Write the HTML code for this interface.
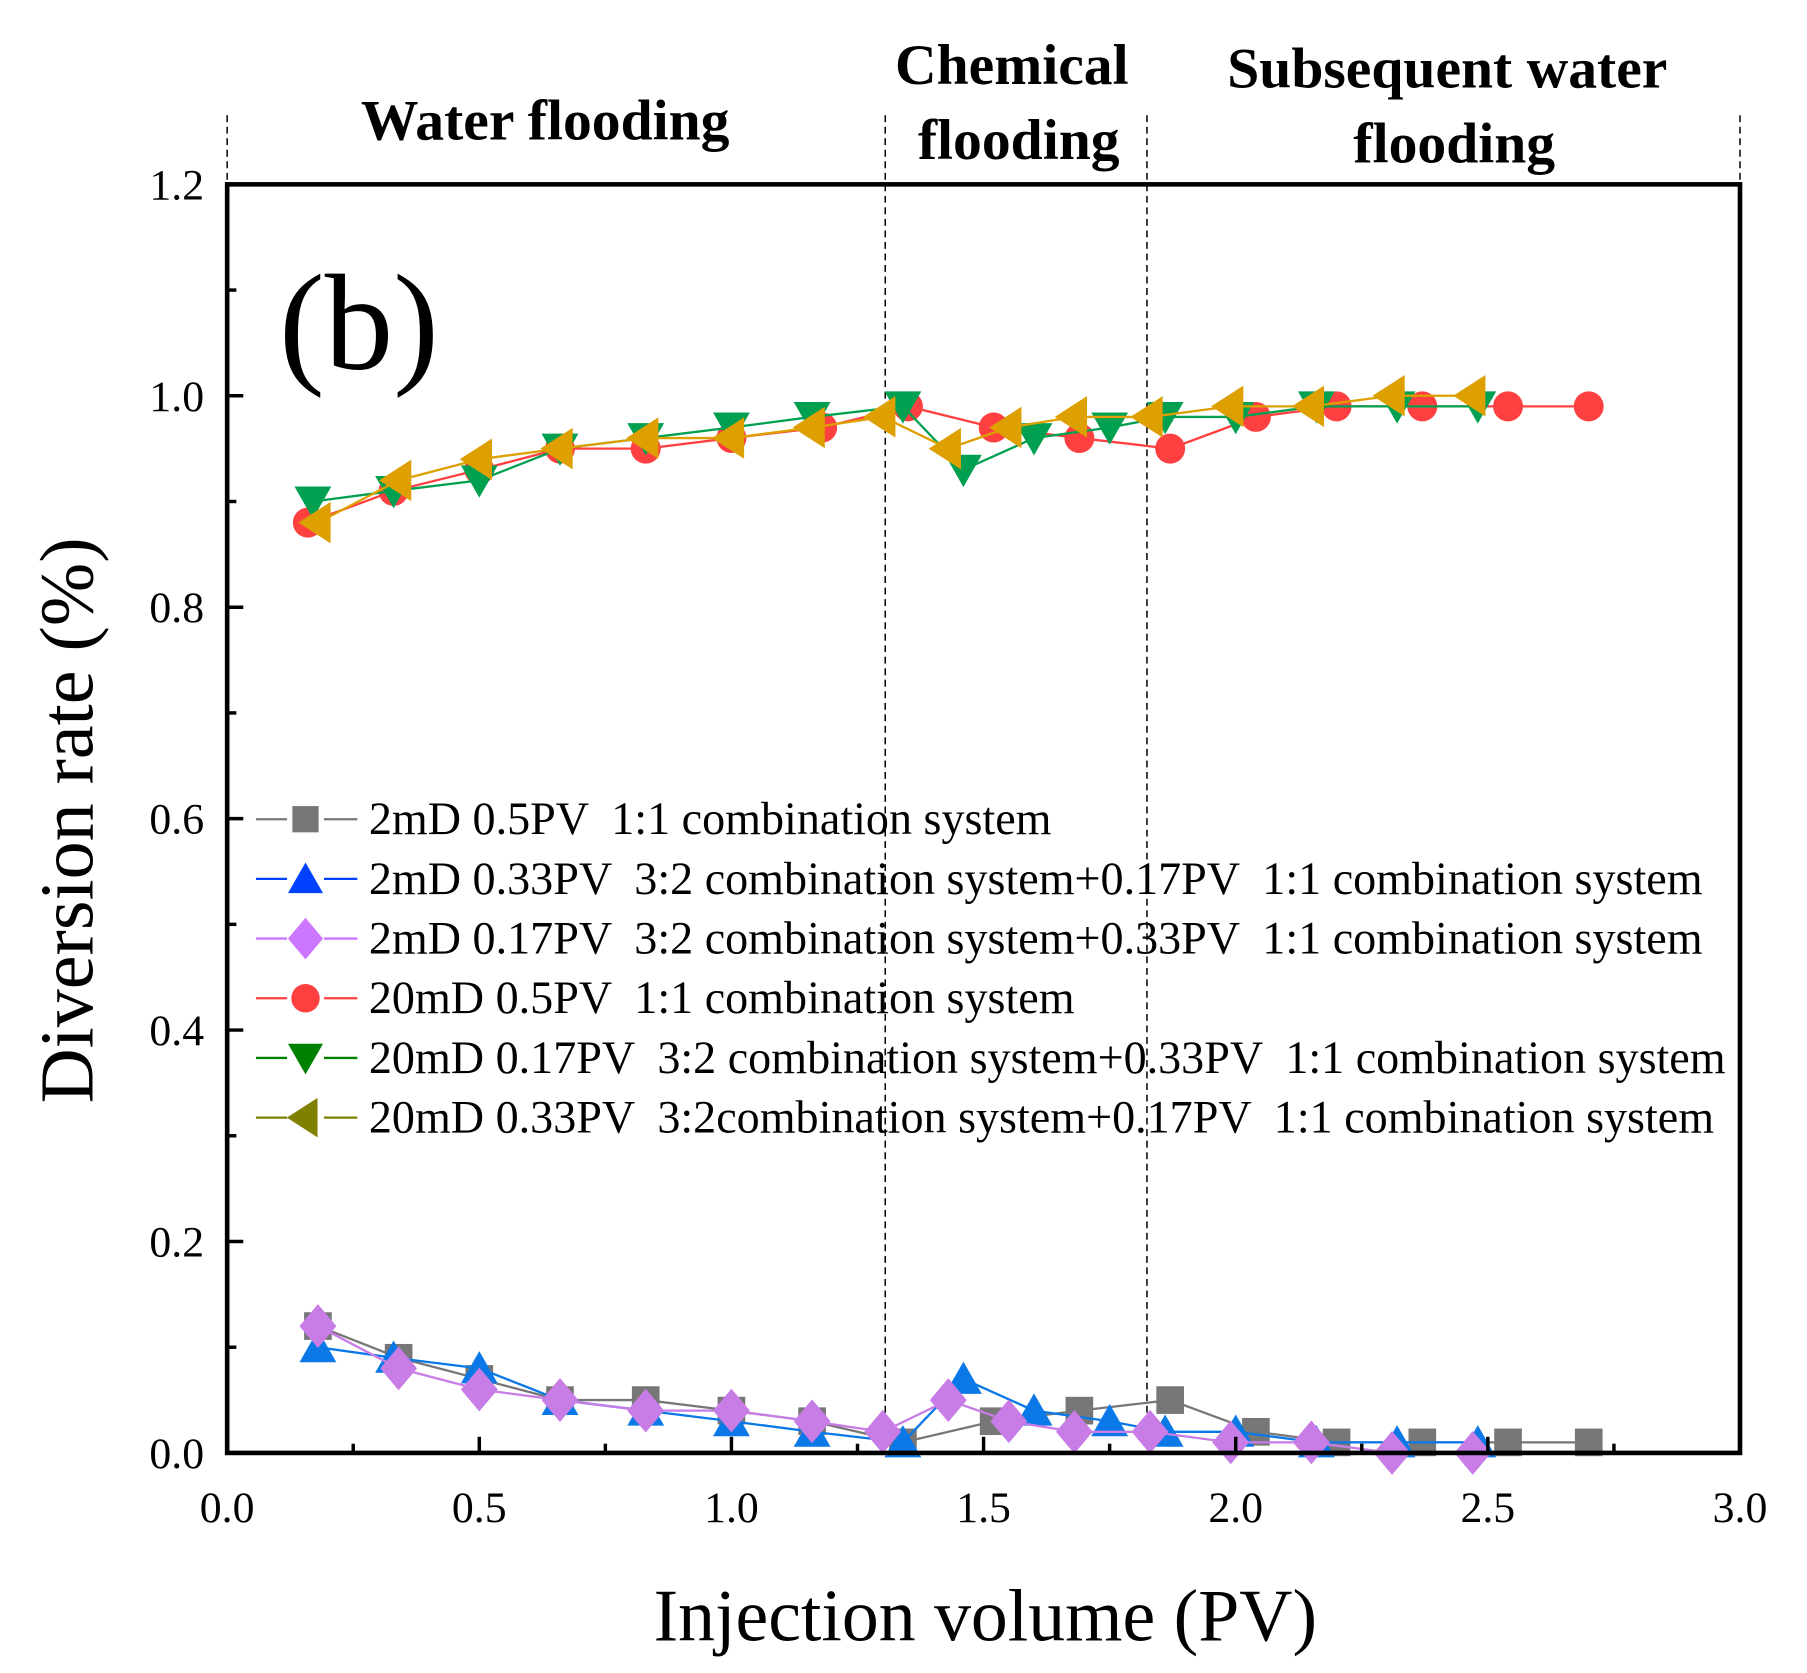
<!DOCTYPE html>
<html><head><meta charset="utf-8"><style>
html,body{margin:0;padding:0;background:#fff}
svg{display:block}
text{font-family:"Liberation Serif","Times New Roman",serif;white-space:pre}
</style></head><body>
<svg id="chart" width="1807" height="1673" viewBox="0 0 1568 1452" xmlns="http://www.w3.org/2000/svg">
</svg>
<script>
const categoriesX_gray=[0.18,0.34,0.5,0.66,0.83,1.0,1.16,1.34,1.52,1.69,1.87,2.04,2.2,2.37,2.54,2.7];
const valuesGray=[0.12,0.09,0.07,0.05,0.05,0.04,0.03,0.01,0.03,0.04,0.05,0.02,0.01,0.01,0.01,0.01];
const categoriesX_blue=[0.18,0.33,0.5,0.66,0.83,1.0,1.16,1.34,1.46,1.6,1.75,1.86,2.0,2.16,2.32,2.48];
const valuesBlue=[0.10,0.09,0.08,0.05,0.04,0.03,0.02,0.01,0.07,0.04,0.03,0.02,0.02,0.01,0.01,0.01];
const categoriesX_purple=[0.18,0.34,0.5,0.66,0.83,1.0,1.16,1.3,1.43,1.55,1.68,1.83,1.99,2.15,2.31,2.47];
const valuesPurple=[0.12,0.08,0.06,0.05,0.04,0.04,0.03,0.02,0.05,0.03,0.02,0.02,0.01,0.01,0.0,0.0];
const categoriesX_red=[0.16,0.33,0.5,0.66,0.83,1.0,1.18,1.35,1.52,1.69,1.87,2.04,2.2,2.37,2.54,2.7];
const valuesRed=[0.88,0.91,0.93,0.95,0.95,0.96,0.97,0.99,0.97,0.96,0.95,0.98,0.99,0.99,0.99,0.99];
const categoriesX_green=[0.17,0.33,0.5,0.66,0.83,1.0,1.16,1.34,1.46,1.6,1.75,1.86,2.0,2.16,2.32,2.48];
const valuesGreen=[0.90,0.91,0.92,0.95,0.96,0.97,0.98,0.99,0.93,0.96,0.97,0.98,0.98,0.99,0.99,0.99];
const categoriesX_gold=[0.18,0.34,0.5,0.66,0.83,1.0,1.16,1.3,1.43,1.55,1.68,1.83,1.99,2.15,2.31,2.47];
const valuesGold=[0.88,0.92,0.94,0.95,0.96,0.96,0.97,0.98,0.95,0.97,0.98,0.98,0.99,0.99,1.0,1.0];
const xTickLabels=["0.0","0.5","1.0","1.5","2.0","2.5","3.0"];
const yTickLabels=["0.0","0.2","0.4","0.6","0.8","1.0","1.2"];
const stageBoundaries=[1.305,1.824];
const legendLabels=["2mD 0.5PV  1:1 combination system","2mD 0.33PV  3:2 combination system+0.17PV  1:1 combination system","2mD 0.17PV  3:2 combination system+0.33PV  1:1 combination system","20mD 0.5PV  1:1 combination system","20mD 0.17PV  3:2 combination system+0.33PV  1:1 combination system","20mD 0.33PV  3:2combination system+0.17PV  1:1 combination system"];

const NS="http://www.w3.org/2000/svg";
const svg=document.getElementById('chart');
const L=197,R=1510,T=160,B=1261;
const xs=v=>L+(v/3)*(R-L);
const ys=v=>B-(v/1.2)*(B-T);
function el(tag,attrs,parent){const e=document.createElementNS(NS,tag);for(const k in attrs)e.setAttribute(k,attrs[k]);(parent||svg).appendChild(e);return e;}
function txt(s,attrs,parent){const e=el('text',attrs,parent);e.textContent=s;return e;}

const sep=[0,stageBoundaries[0],stageBoundaries[1],3];
sep.forEach((v,i)=>{
  const inner=(i==1||i==2);
  const ln=el('line',{x1:xs(v),x2:xs(v),y1:100,y2:inner?B:T,stroke:'#000','stroke-width':1.3,'stroke-dasharray':'6,4'});
  
  
});
const st=[["Water flooding",null,473,121],["Chemical","flooding",878,73],["Subsequent water","flooding",1256,76]];
st.forEach(s=>{
  const g=el('g',{});
  
  
  txt(s[0],{x:s[2],y:s[3],'text-anchor':'middle','font-size':50,'font-weight':'bold'},g);
  if(s[1])txt(s[1],{x:s[2]+6,y:s[3]+65,'text-anchor':'middle','font-size':50,'font-weight':'bold'},g);
});

const series=[
 {xs:categoriesX_gray,ys:valuesGray,c:'#777777',lc:'#777777',m:'square',n:'series-2md-0.5pv'},
 {xs:categoriesX_blue,ys:valuesBlue,c:'#0a78e6',lc:'#0040ff',m:'tri-up',n:'series-2md-0.33pv'},
 {xs:categoriesX_purple,ys:valuesPurple,c:'#c77ce6',lc:'#cc77ff',m:'diamond',n:'series-2md-0.17pv'},
 {xs:categoriesX_red,ys:valuesRed,c:'#ff4040',lc:'#ff4040',m:'circle',n:'series-20md-0.5pv'},
 {xs:categoriesX_green,ys:valuesGreen,c:'#00a050',lc:'#008000',m:'tri-down',n:'series-20md-0.17pv'},
 {xs:categoriesX_gold,ys:valuesGold,c:'#dda000',lc:'#808000',m:'tri-left',n:'series-20md-0.33pv'}
];
function marker(type,x,y,c,g,s){
  s=s||1;let e;
  if(type=='square')e=el('rect',{x:x-12*s,y:y-12*s,width:24*s,height:24*s,fill:c},g);
  else if(type=='circle')e=el('circle',{cx:x,cy:y,r:13*s,fill:c},g);
  else if(type=='tri-up')e=el('polygon',{points:`${x},${y-15*s} ${x+16*s},${y+13*s} ${x-16*s},${y+13*s}`,fill:c},g);
  else if(type=='tri-down')e=el('polygon',{points:`${x},${y+15*s} ${x+16*s},${y-13*s} ${x-16*s},${y-13*s}`,fill:c},g);
  else if(type=='tri-left')e=el('polygon',{points:`${x-17*s},${y} ${x+11*s},${y-18*s} ${x+11*s},${y+18*s}`,fill:c},g);
  else e=el('polygon',{points:`${x},${y-19*s} ${x+16*s},${y} ${x},${y+19*s} ${x-16*s},${y}`,fill:c},g);
  return e;
}
series.forEach(s=>{
  const g=el('g',{});
  
  
  const pts=s.xs.map((x,i)=>xs(x)+','+ys(s.ys[i])).join(' ');
  el('polyline',{points:pts,fill:'none',stroke:s.c,'stroke-width':2},g);
  s.xs.forEach((x,i)=>{
    const m=marker(s.m,xs(x),ys(s.ys[i]),s.c,g);
    
    
  });
});

const frame=el('rect',{x:L,y:T,width:R-L,height:B-T,fill:'none',stroke:'#000','stroke-width':4});



const xt=el('g',{});


for(let i=0;i<=12;i++){
  const v=i*0.25,x=xs(v),maj=i%2==0;
  el('line',{x1:x,x2:x,y1:B,y2:B-(maj?14:8),stroke:'#000','stroke-width':3},xt);
}
xTickLabels.forEach((l,i)=>{
  txt(l,{x:xs(i*0.5),y:B+60,'text-anchor':'middle','font-size':38},xt);
});
const yt=el('g',{});


for(let i=0;i<=12;i++){
  const v=i*0.1,y=ys(v),maj=i%2==0;
  el('line',{x1:L,x2:L+(maj?14:8),y1:y,y2:y,stroke:'#000','stroke-width':3},yt);
}
yTickLabels.forEach((l,i)=>{
  txt(l,{x:L-20,y:ys(i*0.2)+13,'text-anchor':'end','font-size':38},yt);
});
const xl=txt('Injection volume (PV)',{x:855,y:1424,'text-anchor':'middle','font-size':64});


const yl=txt('Diversion rate (%)',{x:0,y:0,'text-anchor':'middle','font-size':66,transform:'translate(80,712) rotate(-90)'});


const pl=txt('(b)',{x:242,y:320,'font-size':119});



const lg=el('g',{});


series.forEach((s,i)=>{
  const y=711+i*51.8;
  const g=el('g',{},lg);
  
  
  el('line',{x1:222,x2:310,y1:y,y2:y,stroke:s.lc,'stroke-width':2},g);
  el('rect',{x:249,y:y-16,width:32,height:32,fill:'#fff'},g);
  marker(s.m,265,y,s.lc,g,0.95);
  txt(legendLabels[i],{x:320,y:y+13,'font-size':40},g);
});
</script>
</body></html>
